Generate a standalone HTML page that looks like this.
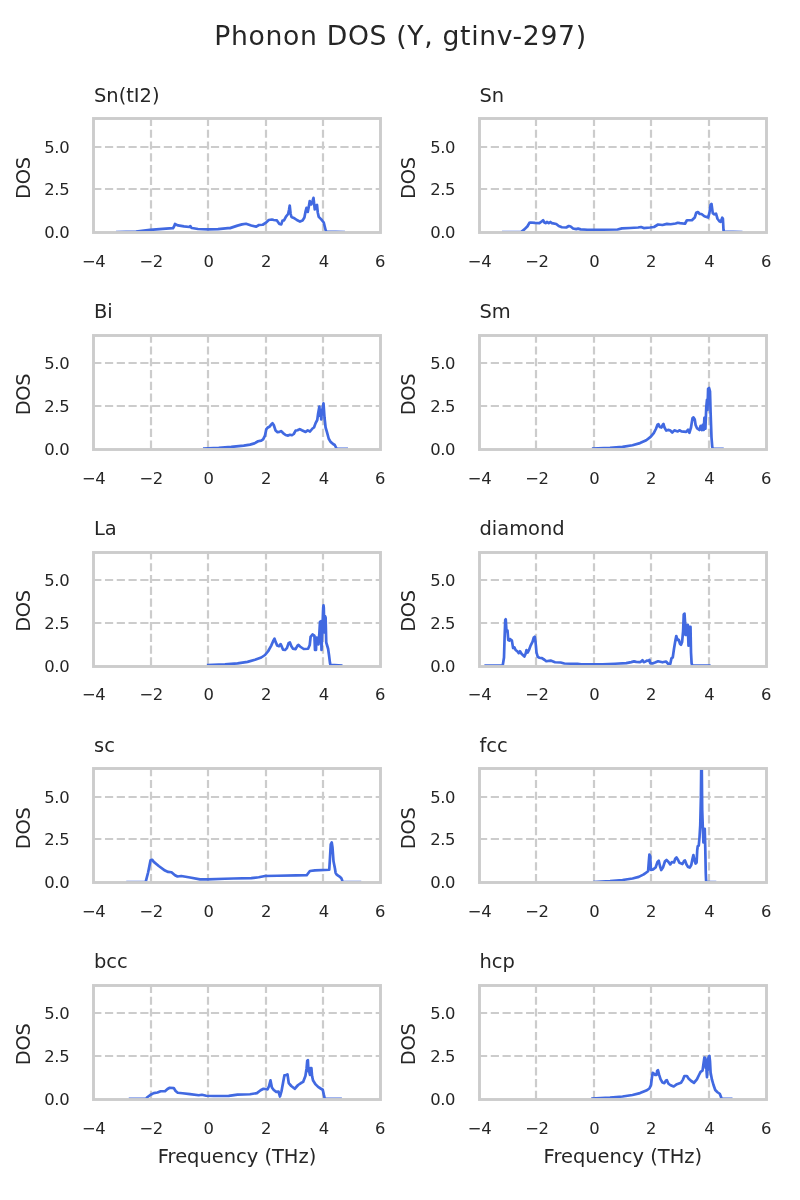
<!DOCTYPE html>
<html lang="en">
<head>
<meta charset="utf-8">
<title>Phonon DOS (Y, gtinv-297)</title>
<style>
html,body{margin:0;padding:0;background:#fff;}
body{width:800px;height:1200px;overflow:hidden;}
svg{display:block;will-change:transform;}
text{font-family:"DejaVu Sans", "Liberation Sans", sans-serif;fill:#262626;}
.tk{font-size:16.4px;letter-spacing:-0.4px;}
.tt{font-size:19.44px;}
.lb{font-size:19.44px;}
.lbv{letter-spacing:-0.3px;}
.sup{font-size:26.67px;letter-spacing:0.66px;}
.grid{stroke:#cccccc;stroke-width:2.2;stroke-dasharray:8.2 3.57;fill:none;}
.spine{stroke:#cccccc;stroke-width:2.9;fill:none;stroke-linecap:square;}
.crv{stroke:#4169e1;stroke-width:2.7;fill:none;stroke-linejoin:round;stroke-linecap:butt;}
.faint{stroke:#4169e1;stroke-opacity:0.25;stroke-width:2.7;fill:none;}
</style>
</head>
<body>
<svg width="800" height="1200" viewBox="0 0 800 1200">
<rect x="0" y="0" width="800" height="1200" fill="#ffffff"/>
<text class="sup" x="400.5" y="45" text-anchor="middle">Phonon DOS (Y, gtinv-297)</text>

<g id="ax0">
<clipPath id="cp0"><rect x="93.5" y="118.5" width="287" height="114"/></clipPath>
<line class="grid" x1="151" y1="232" x2="151" y2="118.1"/>
<line class="grid" x1="208" y1="232" x2="208" y2="118.1"/>
<line class="grid" x1="266" y1="232" x2="266" y2="118.1"/>
<line class="grid" x1="323" y1="232" x2="323" y2="118.1"/>
<line class="grid" x1="93.2" y1="189" x2="380.3" y2="189"/>
<line class="grid" x1="93.2" y1="147" x2="380.3" y2="147"/>
<polyline class="crv" clip-path="url(#cp0)" points="116,232 136,231.5 150,229.8 166,228.6 173,228.2 174.3,226 175,224 176,224.6 178,225.4 184,226.4 189.4,227 190.4,226.1 191.2,227.6 192,228 198,229 208,229.4 218,229.2 228,228.2 230,228.1 237.5,225.6 242,224.4 246,223.75 251.25,225.5 256.25,226.6 259,225 262.75,224.75 265.6,222.9 268.75,220 271.9,219.5 273.75,220 276.9,220.4 279.4,224 281.25,224.4 282.5,220.6 284,220.4 286,216.6 288.1,214 289,210 289.75,205.6 290.6,213.75 291.5,217 293.75,217.9 296.9,220 300,221.6 302.5,220.6 304.4,217.5 305.6,211.25 306.5,207.9 307.75,211.9 308.75,206.9 309.75,201 311.25,204.4 312.5,201.25 313.5,197.9 314.75,209.4 316,205.6 317,205 317.75,212.5 318.75,216.9 321.25,219.4 323.75,222.5 325.6,230 326.25,231.5 345,232"/>
<rect class="spine" x="93.5" y="118.5" width="287" height="114"/>
<text class="tt" x="94" y="101.6">Sn(tI2)</text>
<text class="tk" x="69.2" y="238" text-anchor="end">0.0</text>
<text class="tk" x="69.2" y="195.32" text-anchor="end">2.5</text>
<text class="tk" x="69.2" y="152.65" text-anchor="end">5.0</text>
<text class="tk" x="93.7" y="266.9" text-anchor="middle">−4</text>
<text class="tk" x="151.12" y="266.9" text-anchor="middle">−2</text>
<text class="tk" x="208.54" y="266.9" text-anchor="middle">0</text>
<text class="tk" x="265.96" y="266.9" text-anchor="middle">2</text>
<text class="tk" x="323.78" y="266.9" text-anchor="middle">4</text>
<text class="tk" x="379.9" y="266.9" text-anchor="middle">6</text>
<text class="lb lbv" transform="translate(30,178.05) rotate(-90)" text-anchor="middle">DOS</text>
</g>
<g id="ax1">
<clipPath id="cp1"><rect x="479.5" y="118.5" width="287" height="114"/></clipPath>
<line class="grid" x1="536" y1="232" x2="536" y2="118.1"/>
<line class="grid" x1="594" y1="232" x2="594" y2="118.1"/>
<line class="grid" x1="651" y1="232" x2="651" y2="118.1"/>
<line class="grid" x1="709" y1="232" x2="709" y2="118.1"/>
<line class="grid" x1="479" y1="189" x2="766.1" y2="189"/>
<line class="grid" x1="479" y1="147" x2="766.1" y2="147"/>
<polyline class="crv" clip-path="url(#cp1)" points="501.9,232 521.5,232 521.9,231.25 524.4,229.4 527.5,226.25 529.4,222.9 530.6,222.5 535,222.9 539.4,223.1 541.9,221.25 543.1,220.25 544.4,222.5 545.6,223.1 546.9,222 548.75,223.1 550.4,222 551.9,223.1 556.25,224 558.75,226 561.9,227.25 566.25,227.5 568.75,226 570.6,226.5 573.1,228.5 576.25,229.1 578.1,228.6 580.6,229.4 587.5,229.75 602.5,229.75 617.5,229.5 621.9,228.4 630,228 638.1,227.5 641,227 643.75,228.1 650,227.5 654,227 658.1,224.5 662.5,225 666.9,223.9 670.6,224.25 675.6,223.5 677.75,222.75 680,223.1 685,223.75 686.9,220.25 691.9,220.25 694.75,217.5 696.25,212.75 697.9,212 699.75,214 701.5,214 704.4,216.25 708.1,217.5 709.4,213.1 710.6,205 711.5,204 712.75,213.1 714.4,214.4 716,213.6 717.5,218.75 719.4,221.25 720.6,221.9 722.25,217.75 722.9,218.75 723.5,230 723.75,231.5 742.5,232"/>
<rect class="spine" x="479.5" y="118.5" width="287" height="114"/>
<text class="tt" x="479.5" y="101.6">Sn</text>
<text class="tk" x="455" y="238" text-anchor="end">0.0</text>
<text class="tk" x="455" y="195.32" text-anchor="end">2.5</text>
<text class="tk" x="455" y="152.65" text-anchor="end">5.0</text>
<text class="tk" x="479.5" y="266.9" text-anchor="middle">−4</text>
<text class="tk" x="536.92" y="266.9" text-anchor="middle">−2</text>
<text class="tk" x="594.34" y="266.9" text-anchor="middle">0</text>
<text class="tk" x="651.06" y="266.9" text-anchor="middle">2</text>
<text class="tk" x="709.38" y="266.9" text-anchor="middle">4</text>
<text class="tk" x="765.9" y="266.9" text-anchor="middle">6</text>
<text class="lb lbv" transform="translate(414.9,178.05) rotate(-90)" text-anchor="middle">DOS</text>
</g>
<g id="ax2">
<clipPath id="cp2"><rect x="93.5" y="335.5" width="287" height="114"/></clipPath>
<line class="grid" x1="151" y1="448.75" x2="151" y2="334.85"/>
<line class="grid" x1="208" y1="448.75" x2="208" y2="334.85"/>
<line class="grid" x1="266" y1="448.75" x2="266" y2="334.85"/>
<line class="grid" x1="323" y1="448.75" x2="323" y2="334.85"/>
<line class="grid" x1="93.2" y1="406" x2="380.3" y2="406"/>
<line class="grid" x1="93.2" y1="363" x2="380.3" y2="363"/>
<polyline class="crv" clip-path="url(#cp2)" points="203,448.6 218.75,447.9 231.25,446.9 243.75,445.6 250,444.6 254.4,443.4 258.1,441.25 261.25,440.6 263.1,439.4 265,435.6 266.25,429.4 267.5,427.75 269.75,426.5 271.25,424.4 272.5,423.25 273.75,425 275.6,430.6 277.5,432.25 279.4,431.9 281,431.1 283.1,433.1 285.6,435 288.1,435.6 290,434.75 291.9,435.25 293.75,434 295.6,430.6 297.5,430.25 299.75,429.1 301.9,430.25 305.6,431.9 307.75,430.4 310,431.5 312.5,428.5 314,427.5 315.6,423.1 317.25,420 318.1,413.75 319.4,406.6 320.1,416 320.7,411 321.25,419.4 321.9,412 322.5,408.75 323.5,403.25 324.5,417.5 325.6,427.5 326.9,431.9 328.75,438.75 330.6,441.9 333.1,444 334.75,445 336,447.5 336.5,448.5 348,448.75"/>
<rect class="spine" x="93.5" y="335.5" width="287" height="114"/>
<text class="tt" x="94" y="317.65">Bi</text>
<text class="tk" x="69.2" y="454.75" text-anchor="end">0.0</text>
<text class="tk" x="69.2" y="412.07" text-anchor="end">2.5</text>
<text class="tk" x="69.2" y="369.4" text-anchor="end">5.0</text>
<text class="tk" x="93.7" y="483.65" text-anchor="middle">−4</text>
<text class="tk" x="151.12" y="483.65" text-anchor="middle">−2</text>
<text class="tk" x="208.54" y="483.65" text-anchor="middle">0</text>
<text class="tk" x="265.96" y="483.65" text-anchor="middle">2</text>
<text class="tk" x="323.78" y="483.65" text-anchor="middle">4</text>
<text class="tk" x="379.9" y="483.65" text-anchor="middle">6</text>
<text class="lb lbv" transform="translate(30,394.5) rotate(-90)" text-anchor="middle">DOS</text>
</g>
<g id="ax3">
<clipPath id="cp3"><rect x="479.5" y="335.5" width="287" height="114"/></clipPath>
<line class="grid" x1="536" y1="448.75" x2="536" y2="334.85"/>
<line class="grid" x1="594" y1="448.75" x2="594" y2="334.85"/>
<line class="grid" x1="651" y1="448.75" x2="651" y2="334.85"/>
<line class="grid" x1="709" y1="448.75" x2="709" y2="334.85"/>
<line class="grid" x1="479" y1="406" x2="766.1" y2="406"/>
<line class="grid" x1="479" y1="363" x2="766.1" y2="363"/>
<polyline class="crv" clip-path="url(#cp3)" points="591.9,448.6 610,447.9 622.5,446.9 632.5,445.25 640,443.1 646.25,440.25 650.6,436.9 653.75,433.1 656,428.75 657.5,424.75 658.5,424.25 659.75,426.9 661.5,427.5 662.75,424.75 663.5,424 664.5,427.5 666.25,430.6 668.1,429.9 670,430.25 672.25,432.5 674.4,430.4 676.25,431 677.75,431.5 679.4,430.25 681.4,431.4 686.25,431.9 688.1,429.75 689.4,432.75 691,427.5 692.5,418.1 693.5,417.4 694.75,419.4 695.6,425 696.9,428.1 699.4,430 700.6,426 701.9,430 702.75,424.75 703.75,430 704.4,417.9 705.4,428.75 706.25,407.5 707,399.75 707.5,410 708.1,388.75 709.1,388 710,391.25 710.6,412.5 711.5,437.5 712.25,446.9 712.75,448.75 723.75,448.75"/>
<rect class="spine" x="479.5" y="335.5" width="287" height="114"/>
<text class="tt" x="479.5" y="317.65">Sm</text>
<text class="tk" x="455" y="454.75" text-anchor="end">0.0</text>
<text class="tk" x="455" y="412.07" text-anchor="end">2.5</text>
<text class="tk" x="455" y="369.4" text-anchor="end">5.0</text>
<text class="tk" x="479.5" y="483.65" text-anchor="middle">−4</text>
<text class="tk" x="536.92" y="483.65" text-anchor="middle">−2</text>
<text class="tk" x="594.34" y="483.65" text-anchor="middle">0</text>
<text class="tk" x="651.06" y="483.65" text-anchor="middle">2</text>
<text class="tk" x="709.38" y="483.65" text-anchor="middle">4</text>
<text class="tk" x="765.9" y="483.65" text-anchor="middle">6</text>
<text class="lb lbv" transform="translate(414.9,394.5) rotate(-90)" text-anchor="middle">DOS</text>
</g>
<g id="ax4">
<clipPath id="cp4"><rect x="93.5" y="552.5" width="287" height="114"/></clipPath>
<line class="grid" x1="151" y1="665.5" x2="151" y2="551.6"/>
<line class="grid" x1="208" y1="665.5" x2="208" y2="551.6"/>
<line class="grid" x1="266" y1="665.5" x2="266" y2="551.6"/>
<line class="grid" x1="323" y1="665.5" x2="323" y2="551.6"/>
<line class="grid" x1="93.2" y1="623" x2="380.3" y2="623"/>
<line class="grid" x1="93.2" y1="580" x2="380.3" y2="580"/>
<polyline class="crv" clip-path="url(#cp4)" points="206.9,665.1 225,664.4 237.5,663.4 247.5,661.9 255,659.75 261.25,657.5 265,655 268.1,651.25 271.25,645.6 273.1,641.25 274.5,638.75 275.6,641.9 277.25,645.6 279,646.25 280.6,644.1 281.9,646.9 283.1,649.75 285,650 286.9,648.1 288.6,643.1 289.9,642.4 291.25,646 292.9,648.6 295.6,649.1 297.5,645.6 298.5,644.9 300,646.5 303.75,649 308.1,648.75 309.75,645 310.6,636.9 312.5,634.5 314.4,635.6 315,650 316,650 316.5,637.5 317.75,638.1 318.5,644.4 319.4,632.5 320,621.9 320.9,621.25 321.5,650 322.5,626.25 323.2,608 323.5,605.3 323.8,608 324.4,632.5 325,616.1 325.6,617.5 326.25,642.5 328.1,648.75 329,655 330,663.1 330.4,664.75 342.5,665.5"/>
<rect class="spine" x="93.5" y="552.5" width="287" height="114"/>
<text class="tt" x="94" y="535.2">La</text>
<text class="tk" x="69.2" y="671.5" text-anchor="end">0.0</text>
<text class="tk" x="69.2" y="628.83" text-anchor="end">2.5</text>
<text class="tk" x="69.2" y="586.15" text-anchor="end">5.0</text>
<text class="tk" x="93.7" y="700.4" text-anchor="middle">−4</text>
<text class="tk" x="151.12" y="700.4" text-anchor="middle">−2</text>
<text class="tk" x="208.54" y="700.4" text-anchor="middle">0</text>
<text class="tk" x="265.96" y="700.4" text-anchor="middle">2</text>
<text class="tk" x="323.78" y="700.4" text-anchor="middle">4</text>
<text class="tk" x="379.9" y="700.4" text-anchor="middle">6</text>
<text class="lb lbv" transform="translate(30,610.95) rotate(-90)" text-anchor="middle">DOS</text>
</g>
<g id="ax5">
<clipPath id="cp5"><rect x="479.5" y="552.5" width="287" height="114"/></clipPath>
<line class="grid" x1="536" y1="665.5" x2="536" y2="551.6"/>
<line class="grid" x1="594" y1="665.5" x2="594" y2="551.6"/>
<line class="grid" x1="651" y1="665.5" x2="651" y2="551.6"/>
<line class="grid" x1="709" y1="665.5" x2="709" y2="551.6"/>
<line class="grid" x1="479" y1="623" x2="766.1" y2="623"/>
<line class="grid" x1="479" y1="580" x2="766.1" y2="580"/>
<polyline class="crv" clip-path="url(#cp5)" points="484.4,665.5 502.75,665.3 504,657.5 504.6,637.5 505.25,620 505.75,619.25 506.5,631.25 507.5,630.5 508.25,640 509.4,640.6 510,639.1 511.9,640.6 513.1,648.1 514.4,647.4 515.6,650 517.5,651.5 518.75,653.1 520,651.25 521.5,653.75 524.4,656.5 525.6,653.75 526.5,650 527.75,652.5 529,650 530.6,645.6 532.5,641.9 533.75,637.5 534.75,636.75 535.6,642.5 536.5,652.5 537.75,656.9 539.4,657.75 541.9,658.1 544.4,659.75 546.25,661.25 550.6,660.6 555,662.25 560.6,662.5 564.4,663.5 577.5,663.9 581.25,664.4 602.5,664.4 615,663.75 626.25,663.1 631.25,662.1 634,661.4 636.25,661.9 640,662.1 641.5,661.25 642.5,660.25 643.75,662.1 645.6,661.5 646.9,660.5 648.5,661 649.4,659.9 650.25,663.1 652.5,663.4 655,662.5 658.1,661.3 662.5,662.3 666,661.5 668.1,663.75 670.25,664 671.5,658.1 672.75,657.5 674,648.75 675.25,641.25 676.25,636 677.5,640 678.75,639.75 680,643.75 681,644.75 682.1,641.9 683.1,631.25 683.75,614.4 684.5,613.6 685.1,622.5 685.5,635 686.25,626 687,635 687.75,624.75 688.5,645.6 689.25,626.9 690.5,626.9 691,652.5 691.6,663.1 692.1,665.3 710.6,665.5"/>
<rect class="spine" x="479.5" y="552.5" width="287" height="114"/>
<text class="tt" x="479.5" y="535.2">diamond</text>
<text class="tk" x="455" y="671.5" text-anchor="end">0.0</text>
<text class="tk" x="455" y="628.83" text-anchor="end">2.5</text>
<text class="tk" x="455" y="586.15" text-anchor="end">5.0</text>
<text class="tk" x="479.5" y="700.4" text-anchor="middle">−4</text>
<text class="tk" x="536.92" y="700.4" text-anchor="middle">−2</text>
<text class="tk" x="594.34" y="700.4" text-anchor="middle">0</text>
<text class="tk" x="651.06" y="700.4" text-anchor="middle">2</text>
<text class="tk" x="709.38" y="700.4" text-anchor="middle">4</text>
<text class="tk" x="765.9" y="700.4" text-anchor="middle">6</text>
<text class="lb lbv" transform="translate(414.9,610.95) rotate(-90)" text-anchor="middle">DOS</text>
</g>
<g id="ax6">
<clipPath id="cp6"><rect x="93.5" y="768.5" width="287" height="114"/></clipPath>
<line class="grid" x1="151" y1="882.25" x2="151" y2="768.35"/>
<line class="grid" x1="208" y1="882.25" x2="208" y2="768.35"/>
<line class="grid" x1="266" y1="882.25" x2="266" y2="768.35"/>
<line class="grid" x1="323" y1="882.25" x2="323" y2="768.35"/>
<line class="grid" x1="93.2" y1="839" x2="380.3" y2="839"/>
<line class="grid" x1="93.2" y1="797" x2="380.3" y2="797"/>
<polyline class="crv" clip-path="url(#cp6)" points="126.25,882.1 145.6,882.1 146,880.6 148.1,872.5 150.5,860.4 151.2,859.9 152.4,859.9 153.5,861.6 158.75,866 165,870.6 168.1,871.9 171.5,872.25 175,875.25 177.5,876.5 181.25,876 190,877.5 200,879.4 207.5,879.4 225,878.75 233.75,878.5 251.25,878.1 258.75,877.25 265,876 277.5,875.75 296.25,875.4 306.7,875.25 309.9,871 315,870.4 329.25,869.75 330,857.5 330.75,844.4 331.75,842.5 332.5,847.5 333.5,861.25 335,868.75 335.6,872.8 336.5,874.4 338.1,875.6 340,876.9 341.2,878 341.9,879.5 342.3,881 342.6,882.1 361.25,882.1"/>
<rect class="spine" x="93.5" y="768.5" width="287" height="114"/>
<text class="tt" x="94" y="752.15">sc</text>
<text class="tk" x="69.2" y="888.25" text-anchor="end">0.0</text>
<text class="tk" x="69.2" y="844.6" text-anchor="end">2.5</text>
<text class="tk" x="69.2" y="802.9" text-anchor="end">5.0</text>
<text class="tk" x="93.7" y="917.15" text-anchor="middle">−4</text>
<text class="tk" x="151.12" y="917.15" text-anchor="middle">−2</text>
<text class="tk" x="208.54" y="917.15" text-anchor="middle">0</text>
<text class="tk" x="265.96" y="917.15" text-anchor="middle">2</text>
<text class="tk" x="323.78" y="917.15" text-anchor="middle">4</text>
<text class="tk" x="379.9" y="917.15" text-anchor="middle">6</text>
<text class="lb lbv" transform="translate(30,828.3) rotate(-90)" text-anchor="middle">DOS</text>
</g>
<g id="ax7">
<clipPath id="cp7"><rect x="479.5" y="768.5" width="287" height="114"/></clipPath>
<line class="grid" x1="536" y1="882.25" x2="536" y2="768.35"/>
<line class="grid" x1="594" y1="882.25" x2="594" y2="768.35"/>
<line class="grid" x1="651" y1="882.25" x2="651" y2="768.35"/>
<line class="grid" x1="709" y1="882.25" x2="709" y2="768.35"/>
<line class="grid" x1="479" y1="839" x2="766.1" y2="839"/>
<line class="grid" x1="479" y1="797" x2="766.1" y2="797"/>
<polyline class="crv" clip-path="url(#cp7)" points="593.1,882 610,881.2 622.5,880 632.5,878.5 638.75,876.9 643.75,874.4 648.1,871.25 648.75,862.5 649.4,854.5 650.25,856.25 650.9,870 653.1,869.4 655.6,867.5 657.5,861.9 658.75,860.75 660,866.25 661.25,870 663.1,867.2 665,861.25 666.5,860 668.5,861.9 670.25,864.4 671.9,862 674,862.5 675.25,858.75 676.5,857.5 677.75,859.4 679.4,862.75 682.5,864 684,861 685,860.5 686.5,864.4 688.1,866.9 689.75,867.5 691.25,865 692.5,858.75 693.4,855 694.4,860 695.6,863.5 696.6,862.5 697.25,850 697.75,846.25 698.75,845.6 699.5,837.5 700.25,825 700.9,797.5 701.3,760 701.5,741 701.7,760 702.2,810 702.9,830 703.4,842.5 704,828.75 704.75,828.75 705.25,847.5 705.75,872.5 706.1,880.6 706.3,882.1 716.25,882.1"/>
<rect class="spine" x="479.5" y="768.5" width="287" height="114"/>
<text class="tt" x="479.5" y="752.15">fcc</text>
<text class="tk" x="455" y="888.25" text-anchor="end">0.0</text>
<text class="tk" x="455" y="844.6" text-anchor="end">2.5</text>
<text class="tk" x="455" y="802.9" text-anchor="end">5.0</text>
<text class="tk" x="479.5" y="917.15" text-anchor="middle">−4</text>
<text class="tk" x="536.92" y="917.15" text-anchor="middle">−2</text>
<text class="tk" x="594.34" y="917.15" text-anchor="middle">0</text>
<text class="tk" x="651.06" y="917.15" text-anchor="middle">2</text>
<text class="tk" x="709.38" y="917.15" text-anchor="middle">4</text>
<text class="tk" x="765.9" y="917.15" text-anchor="middle">6</text>
<text class="lb lbv" transform="translate(414.9,828.3) rotate(-90)" text-anchor="middle">DOS</text>
</g>
<g id="ax8">
<clipPath id="cp8"><rect x="93.5" y="985.5" width="287" height="114"/></clipPath>
<line class="grid" x1="151" y1="1099" x2="151" y2="985.1"/>
<line class="grid" x1="208" y1="1099" x2="208" y2="985.1"/>
<line class="grid" x1="266" y1="1099" x2="266" y2="985.1"/>
<line class="grid" x1="323" y1="1099" x2="323" y2="985.1"/>
<line class="grid" x1="93.2" y1="1056" x2="380.3" y2="1056"/>
<line class="grid" x1="93.2" y1="1013" x2="380.3" y2="1013"/>
<polyline class="crv" clip-path="url(#cp8)" points="128.75,1098.75 146.25,1098.75 146.9,1097.5 150.6,1094.75 153.75,1093.1 157.5,1092.5 160.6,1091.25 165,1091.25 167.5,1089 169.75,1087.75 173.75,1088.1 175.6,1091 177.75,1092.75 182.5,1093.25 190,1094.1 198.75,1095.25 201.9,1094.75 206.25,1095.75 213.75,1096 228.75,1095.9 237.5,1094.6 250,1094.25 256.9,1093.1 260.6,1090.25 263.5,1088.75 267.5,1089.4 269,1086.25 270.5,1080.4 271.9,1087.5 273.75,1090 276.25,1091.9 278.5,1091.5 280,1096.5 281.5,1091.25 283.1,1082.5 284.4,1075.4 286,1075 287.5,1074.4 288.75,1083.1 291.25,1086 294.75,1088.75 298.1,1085 300.6,1083.3 303.1,1081.9 305.4,1076 306.6,1068.2 307.25,1060.6 307.9,1060.25 308.5,1071.25 309.25,1071.9 310,1075 310.6,1068.1 311.4,1068.1 312.1,1076.25 313.1,1080.6 315.6,1084.4 318.1,1086.9 320.6,1088.5 322.75,1089.75 323.75,1094.4 324.5,1097.5 325,1098.75 341.9,1098.75"/>
<rect class="spine" x="93.5" y="985.5" width="287" height="114"/>
<text class="tt" x="94" y="968.1">bcc</text>
<text class="tk" x="69.2" y="1105" text-anchor="end">0.0</text>
<text class="tk" x="69.2" y="1062.33" text-anchor="end">2.5</text>
<text class="tk" x="69.2" y="1018.6" text-anchor="end">5.0</text>
<text class="tk" x="93.7" y="1133.9" text-anchor="middle">−4</text>
<text class="tk" x="151.12" y="1133.9" text-anchor="middle">−2</text>
<text class="tk" x="208.54" y="1133.9" text-anchor="middle">0</text>
<text class="tk" x="265.96" y="1133.9" text-anchor="middle">2</text>
<text class="tk" x="323.78" y="1133.9" text-anchor="middle">4</text>
<text class="tk" x="379.9" y="1133.9" text-anchor="middle">6</text>
<text class="lb lbv" transform="translate(30,1044.35) rotate(-90)" text-anchor="middle">DOS</text>
<text class="lb" x="237.05" y="1162.6" text-anchor="middle">Frequency (THz)</text>
</g>
<g id="ax9">
<clipPath id="cp9"><rect x="479.5" y="985.5" width="287" height="114"/></clipPath>
<line class="grid" x1="536" y1="1099" x2="536" y2="985.1"/>
<line class="grid" x1="594" y1="1099" x2="594" y2="985.1"/>
<line class="grid" x1="651" y1="1099" x2="651" y2="985.1"/>
<line class="grid" x1="709" y1="1099" x2="709" y2="985.1"/>
<line class="grid" x1="479" y1="1056" x2="766.1" y2="1056"/>
<line class="grid" x1="479" y1="1013" x2="766.1" y2="1013"/>
<polyline class="crv" clip-path="url(#cp9)" points="591.25,1098.6 610,1097.6 622.5,1096.5 632.5,1095 640,1093.1 646.25,1090.6 649.4,1088.5 651,1085 651.9,1077.5 652.75,1072.75 653.75,1073.5 655.25,1075 656.5,1075 657.25,1070.6 658,1070.25 659,1074.4 660.6,1079.4 662.5,1082.5 664.4,1083.1 666,1080.6 666.9,1080.25 668.5,1083.75 670.6,1085.25 673.75,1086.5 676.9,1084.2 681,1082.75 683,1079.6 684.4,1076 686.9,1076 688.75,1078.75 691.25,1081 694,1082.75 696.9,1079.4 699,1075 700.6,1071.9 702.5,1070.6 703.5,1063.75 704.4,1057.5 705.4,1058.1 705.8,1068 706.2,1061 706.6,1072 707,1077.25 707.4,1067 707.75,1070 708.1,1060 708.5,1057.5 709.4,1056 710,1061.25 710.6,1072.5 711.9,1079.4 713.5,1085 715.25,1090 717.5,1092.25 719.75,1093.75 720.75,1096.25 721.25,1097.75 721.5,1098.75 732.5,1098.75"/>
<rect class="spine" x="479.5" y="985.5" width="287" height="114"/>
<text class="tt" x="479.5" y="968.1">hcp</text>
<text class="tk" x="455" y="1105" text-anchor="end">0.0</text>
<text class="tk" x="455" y="1062.33" text-anchor="end">2.5</text>
<text class="tk" x="455" y="1018.6" text-anchor="end">5.0</text>
<text class="tk" x="479.5" y="1133.9" text-anchor="middle">−4</text>
<text class="tk" x="536.92" y="1133.9" text-anchor="middle">−2</text>
<text class="tk" x="594.34" y="1133.9" text-anchor="middle">0</text>
<text class="tk" x="651.06" y="1133.9" text-anchor="middle">2</text>
<text class="tk" x="709.38" y="1133.9" text-anchor="middle">4</text>
<text class="tk" x="765.9" y="1133.9" text-anchor="middle">6</text>
<text class="lb lbv" transform="translate(414.9,1044.35) rotate(-90)" text-anchor="middle">DOS</text>
<text class="lb" x="622.85" y="1162.6" text-anchor="middle">Frequency (THz)</text>
</g>
</svg>
</body>
</html>
